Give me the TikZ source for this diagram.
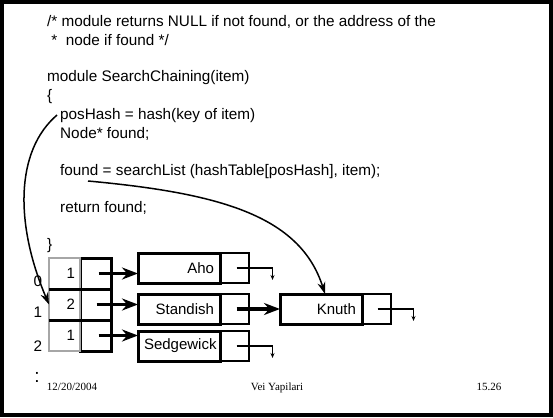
\documentclass[tikz,border=0pt]{standalone}
\usepackage{fontspec}
\setmainfont{Liberation Sans}
\newfontfamily\footfont{Liberation Serif}
\usetikzlibrary{arrows.meta,positioning}
\tikzset{
  codeline/.style={anchor=base west, inner sep=0pt, font=\fontsize{15.3}{17}\selectfont},
  footline/.style={anchor=base, inner sep=0pt, font=\footfont\fontsize{11}{13}\selectfont},
  countcell/.style={
    rectangle, outer sep=0pt,
    text width=21pt, inner xsep=5pt, align=right,
    minimum height=31pt, font=\fontsize{15}{17}\selectfont
  },
  graybox/.style={draw=gray!70, line width=2pt},
  ptrcell/.style={
    rectangle, draw=black, line width=3pt, outer sep=0pt,
    minimum width=31pt, minimum height=31pt, inner sep=0pt
  },
  keycell/.style={
    rectangle, draw=black, line width=3pt, outer sep=0pt,
    text width=70pt, inner xsep=6pt, align=right,
    minimum height=30pt, font=\fontsize{15}{17}\selectfont
  },
  nextcell/.style={
    rectangle, draw=black, line width=2.2pt, outer sep=0pt,
    minimum width=29pt, minimum height=30pt, inner sep=0pt
  },
  chainarrow/.style={-{Stealth[length=16pt,width=12pt]}, line width=3.2pt},
  nullarrow/.style={-{Stealth[length=5pt,width=4pt]}, line width=1.2pt},
  refarrow/.style={-{Stealth[length=12pt,width=8pt]}, line width=1.5pt},
}
\begin{document}
\begin{tikzpicture}[x=1pt, y=-1pt]
  \useasboundingbox (0,0) rectangle (553,417);
  \draw[line width=4pt] (2,2) rectangle (551,415);

  % code text
  \node[codeline] (cmt1) at (47,27) {/* module returns NULL if not found, or the address of the};
  \node[codeline] (cmt2) at (47,46) {\ *\ \ node if found */};
  \node[codeline] (modhead) at (47,82) {module SearchChaining(item)};
  \node[codeline] (lbrace) at (47,100) {\{};
  \node[codeline] (poshash) at (60,119) {posHash = hash(key of item)};
  \node[codeline] (nodedecl) at (60,138) {Node* found;};
  \node[codeline] (foundln) at (60,175) {found = searchList (hashTable[posHash], item);};
  \node[codeline] (retln) at (60,212) {return found;};
  \node[codeline] (rbrace) at (47,249) {\}};

  % hash table
  \node[countcell, anchor=north west] (cnt0) at (49,258) {1};
  \node[countcell, below=0pt of cnt0] (cnt1) {2};
  \node[countcell, below=0pt of cnt1] (cnt2) {1};
  \node[ptrcell, right=0pt of cnt0] (ptr0) {};
  \node[ptrcell, right=0pt of cnt1] (ptr1) {};
  \node[ptrcell, right=0pt of cnt2] (ptr2) {};
  \foreach \c in {cnt0,cnt1,cnt2}
    \draw[graybox] (\c.north west) rectangle (\c.south east);
  \draw[line width=3pt] (cnt1.north west) -- (ptr1.north east);
  \draw[line width=3pt] (cnt2.north west) -- (ptr2.north east);
  \node[codeline, anchor=center] (idx0) at (38,281) {0};
  \node[codeline, anchor=center] (idx1) at (38,312) {1};
  \node[codeline, anchor=center] (idx2) at (38,346) {2};

  % chains
  \node[keycell, anchor=north west] (aho) at (138,253) {Aho};
  \node[nextcell, right=0pt of aho] (ahonext) {};
  \node[keycell, anchor=north west] (standish) at (138,294) {Standish};
  \node[nextcell, right=0pt of standish] (standishnext) {};
  \node[keycell, anchor=north west] (sedgewick) at (138,331) {Sedgewick};
  \node[nextcell, right=0pt of sedgewick] (sedgewicknext) {};
  \node[keycell, anchor=north west] (knuth) at (280,294) {Knuth};
  \node[nextcell, right=0pt of knuth] (knuthnext) {};

  \draw[chainarrow] ([xshift=3pt]ptr0.center) -- (ptr0.center -| aho.west);
  \draw[chainarrow] ([xshift=1pt]ptr1.center) -- (ptr1.center -| standish.west);
  \draw[chainarrow] ([xshift=3pt]ptr2.center) -- (ptr2.center -| sedgewick.west);
  \draw[chainarrow] ([xshift=2pt]standishnext.center) -- (knuth.west);

  \draw[nullarrow] ([xshift=2pt]ahonext.center) -- ++(36,0) -- ++(0,12);
  \draw[nullarrow] ([xshift=2pt]sedgewicknext.center) -- ++(36,0) -- ++(0,12);
  \draw[nullarrow] ([xshift=1pt]knuthnext.center) -- ++(36,0) -- ++(0,12);

  % references from the code
  \coordinate (foundref) at ([xshift=28pt,yshift=-6pt]foundln.base west);
  \draw[refarrow] ([xshift=-3pt]poshash.west) .. controls +(-42,36) and +(-34,-80) .. (cnt1.west);
  \draw[refarrow] (foundref) .. controls +(130,12) and +(-25,-79) .. ([xshift=4pt]knuth.north);

  % footer
  \node[codeline, anchor=center, font=\fontsize{19}{20}\selectfont] (dots) at (37,377) {:};
  \node[footline] (date) at (72,390) {12/20/2004};
  \node[footline] (title) at (277,390) {Vei Yapilari};
  \node[footline] (page) at (489,390) {15.26};
\end{tikzpicture}
\end{document}
